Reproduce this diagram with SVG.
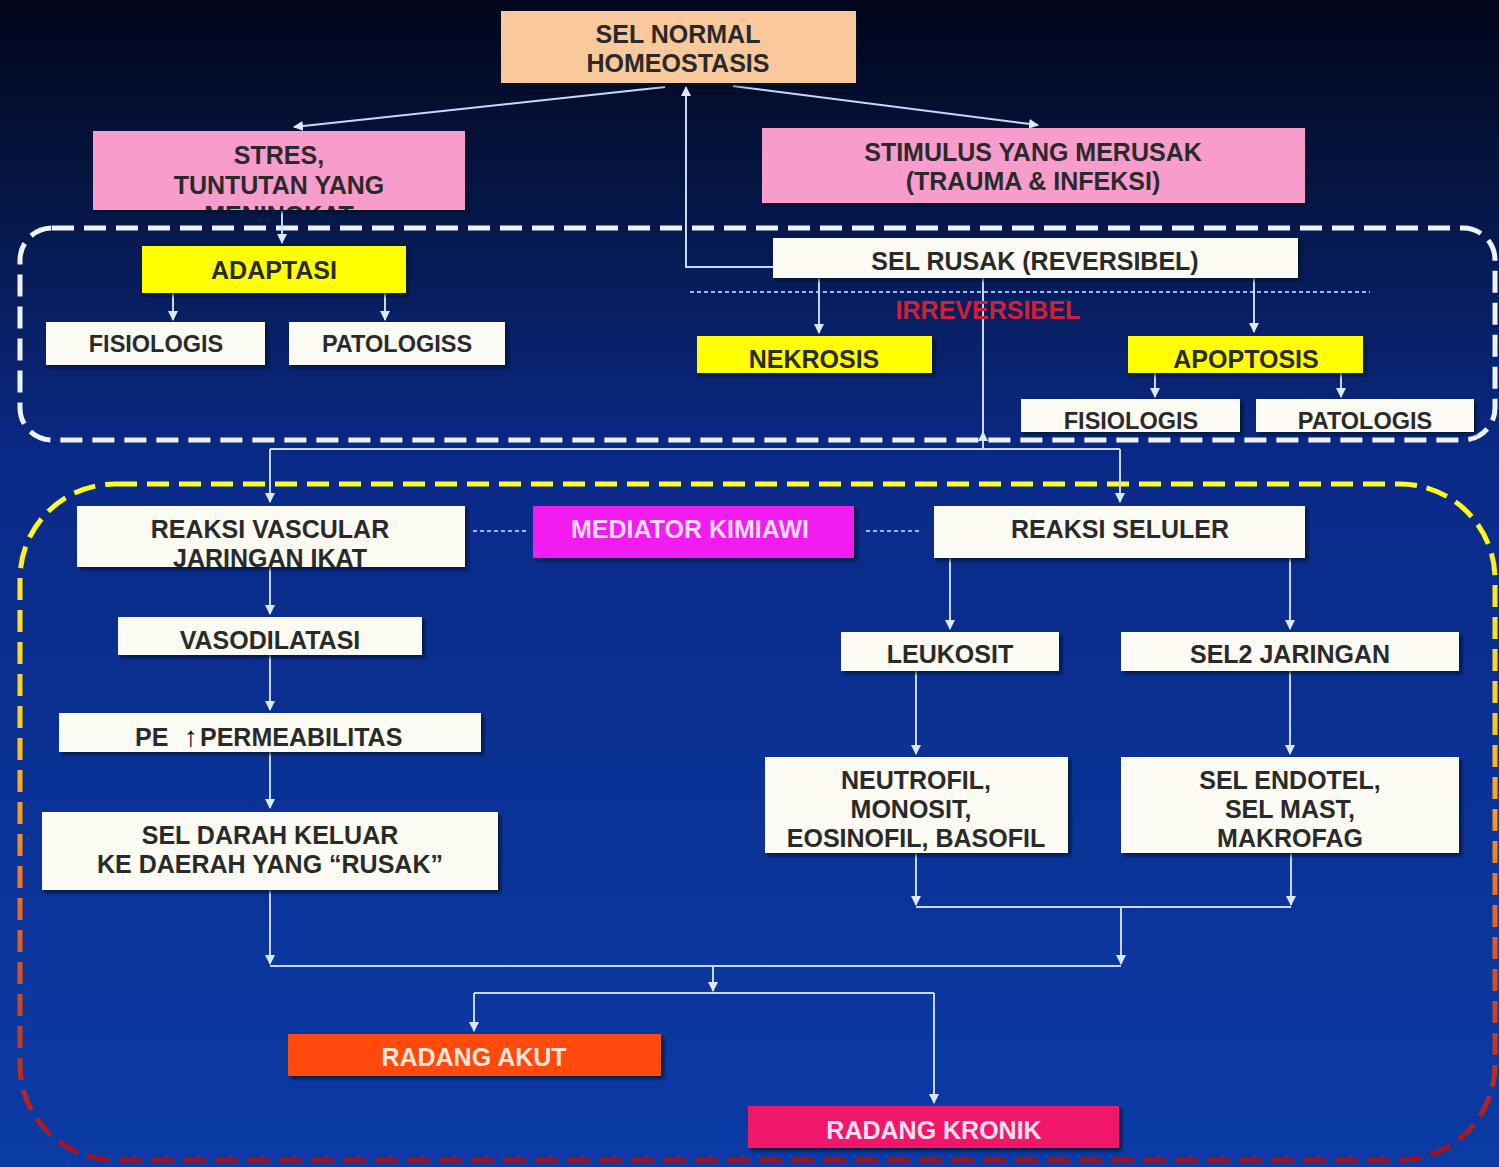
<svg xmlns="http://www.w3.org/2000/svg" width="1499" height="1167" viewBox="0 0 1499 1167">
<defs>
  <linearGradient id="bg" x1="0" y1="0" x2="0" y2="1">
    <stop offset="0" stop-color="#02051a"/>
    <stop offset="0.15" stop-color="#051540"/>
    <stop offset="0.4" stop-color="#0a2a88"/>
    <stop offset="1" stop-color="#0b3ba6"/>
  </linearGradient>
  <linearGradient id="dashg" x1="0" y1="0" x2="0" y2="1" gradientUnits="objectBoundingBox">
    <stop offset="0" stop-color="#ffff20"/>
    <stop offset="0.35" stop-color="#ffcc20"/>
    <stop offset="0.6" stop-color="#f07020"/>
    <stop offset="1" stop-color="#a01020"/>
  </linearGradient>
  <marker id="ah" viewBox="0 0 10 10" refX="9" refY="5" markerWidth="10" markerHeight="10" markerUnits="userSpaceOnUse" orient="auto">
    <path d="M0,0 L10,5 L0,10 z" fill="#dde8ff"/>
  </marker>
  <filter id="sh" x="-5%" y="-10%" width="112%" height="130%">
    <feDropShadow dx="3" dy="3" stdDeviation="1.5" flood-color="#000820" flood-opacity="0.7"/>
  </filter>
  <clipPath id="stresclip"><rect x="93" y="131" width="372" height="79"/></clipPath>
</defs>
<style>
  .t { font-family: "Liberation Sans", Arial, sans-serif; font-weight: bold; font-size: 25px; fill: #2a2a2a; text-anchor: middle; }
  .s { font-size: 23.5px; }
  .w { fill: #fbfbf4; filter: url(#sh); }
  .y { fill: #ffff00; filter: url(#sh); }
  .p { fill: #f79ccb; filter: url(#sh); }
  .c { stroke: #c6d8ff; stroke-width: 2; fill: none; }
  .a { marker-end: url(#ah); }
  .dot { stroke: #9cb8ff; stroke-width: 2; stroke-dasharray: 4 3; fill: none; }
</style>
<rect x="0" y="0" width="1499" height="1167" fill="url(#bg)"/>

<!-- dashed regions -->
<rect x="20" y="228" width="1475" height="212" rx="32" fill="none" stroke="#eef2ff" stroke-width="5" stroke-dasharray="22 10"/>
<rect x="20" y="484" width="1475" height="676" rx="95" fill="none" stroke="url(#dashg)" stroke-width="5" stroke-dasharray="22 10"/>

<g id="connectors">
  <line class="c a" x1="665" y1="87" x2="294" y2="127"/>
  <line class="c a" x1="733" y1="86" x2="1038" y2="125"/>
  <polyline class="c a" points="773,267 686,267 686,87"/>
  <line class="c a" x1="282" y1="211" x2="282" y2="243"/>
  <line class="c a" x1="173" y1="293" x2="173" y2="320"/>
  <line class="c a" x1="385" y1="293" x2="385" y2="320"/>
  <line class="dot" x1="690" y1="292" x2="1370" y2="292"/>
  <line class="c a" x1="819" y1="278" x2="819" y2="333"/>
  <line class="c a" x1="1254" y1="278" x2="1254" y2="332"/>
  <line class="c a" x1="1155" y1="373" x2="1155" y2="397"/>
  <line class="c a" x1="1341" y1="373" x2="1341" y2="397"/>
  <line class="c" x1="983" y1="278" x2="983" y2="449"/>
  <path d="M983,431 L988,441 L978,441 z" fill="#dde8ff"/>
  <line class="c" x1="270" y1="449" x2="1120" y2="449"/>
  <line class="c a" x1="270" y1="449" x2="270" y2="502"/>
  <line class="c a" x1="1120" y1="449" x2="1120" y2="502"/>
  <line class="dot" x1="473" y1="531" x2="528" y2="531"/>
  <line class="dot" x1="866" y1="531" x2="920" y2="531"/>
  <line class="c a" x1="270" y1="567" x2="270" y2="614"/>
  <line class="c a" x1="270" y1="655" x2="270" y2="710"/>
  <line class="c a" x1="270" y1="752" x2="270" y2="808"/>
  <line class="c a" x1="950" y1="558" x2="950" y2="629"/>
  <line class="c a" x1="1290" y1="558" x2="1290" y2="629"/>
  <line class="c a" x1="916" y1="671" x2="916" y2="754"/>
  <line class="c a" x1="1290" y1="671" x2="1290" y2="754"/>
  <line class="c a" x1="916" y1="853" x2="916" y2="905"/>
  <line class="c a" x1="1291" y1="853" x2="1291" y2="905"/>
  <line class="c" x1="916" y1="907" x2="1291" y2="907"/>
  <line class="c a" x1="1121" y1="907" x2="1121" y2="964"/>
  <line class="c a" x1="270" y1="890" x2="270" y2="964"/>
  <line class="c" x1="270" y1="966" x2="1121" y2="966"/>
  <line class="c a" x1="713" y1="966" x2="713" y2="991"/>
  <line class="c" x1="474" y1="993" x2="934" y2="993"/>
  <line class="c a" x1="474" y1="993" x2="474" y2="1031"/>
  <line class="c a" x1="934" y1="993" x2="934" y2="1103"/>
</g>

<g id="sel-normal">
  <rect x="501" y="11" width="355" height="72" fill="#f9c89b" filter="url(#sh)"/>
  <text class="t" x="678" y="43">SEL NORMAL</text>
  <text class="t" x="678" y="72">HOMEOSTASIS</text>
</g>
<g id="stres">
  <rect class="p" x="93" y="131" width="372" height="79"/>
  <text class="t" x="279" y="164">STRES,</text>
  <text class="t" x="279" y="194">TUNTUTAN YANG</text>
  <text class="t" x="279" y="224" clip-path="url(#stresclip)">MENINGKAT</text>
</g>
<g id="stimulus">
  <rect class="p" x="762" y="128" width="543" height="75"/>
  <text class="t" x="1033" y="161">STIMULUS YANG MERUSAK</text>
  <text class="t" x="1033" y="190">(TRAUMA &amp; INFEKSI)</text>
</g>
<g id="adaptasi">
  <rect class="y" x="142" y="246" width="264" height="47"/>
  <text class="t" x="274" y="279">ADAPTASI</text>
</g>
<g id="fisiologis-1">
  <rect class="w" x="46" y="322" width="219" height="43"/>
  <text class="t s" x="156" y="352">FISIOLOGIS</text>
</g>
<g id="patologiss">
  <rect class="w" x="289" y="322" width="216" height="43"/>
  <text class="t s" x="397" y="352">PATOLOGISS</text>
</g>
<g id="sel-rusak">
  <rect class="w" x="773" y="238" width="525" height="40"/>
  <text class="t" x="1035" y="270">SEL RUSAK (REVERSIBEL)</text>
</g>
<g id="irreversibel">
  <text class="t" x="988" y="319" style="fill:#d41e34">IRREVERSIBEL</text>
</g>
<g id="nekrosis">
  <rect class="y" x="697" y="336" width="235" height="37"/>
  <text class="t" x="814" y="368">NEKROSIS</text>
</g>
<g id="apoptosis">
  <rect class="y" x="1128" y="336" width="235" height="37"/>
  <text class="t" x="1246" y="368">APOPTOSIS</text>
</g>
<g id="fisiologis-2">
  <rect class="w" x="1021" y="399" width="219" height="33"/>
  <text class="t s" x="1131" y="429">FISIOLOGIS</text>
</g>
<g id="patologis">
  <rect class="w" x="1256" y="399" width="218" height="33"/>
  <text class="t s" x="1365" y="429">PATOLOGIS</text>
</g>
<g id="reaksi-vascular">
  <rect class="w" x="77" y="506" width="388" height="61"/>
  <text class="t" x="270" y="538">REAKSI VASCULAR</text>
  <text class="t" x="270" y="567">JARINGAN IKAT</text>
</g>
<g id="mediator">
  <rect x="533" y="506" width="321" height="52" fill="#f21ef0" filter="url(#sh)"/>
  <text class="t" x="690" y="538" style="fill:#ffd8ff">MEDIATOR KIMIAWI</text>
</g>
<g id="reaksi-seluler">
  <rect class="w" x="934" y="506" width="371" height="52"/>
  <text class="t" x="1120" y="538">REAKSI SELULER</text>
</g>
<g id="vasodilatasi">
  <rect class="w" x="118" y="617" width="304" height="38"/>
  <text class="t" x="270" y="649">VASODILATASI</text>
</g>
<g id="permeabilitas">
  <rect class="w" x="59" y="713" width="422" height="39"/>
  <text class="t" y="746" style="text-anchor:start"><tspan x="135">PE</tspan><tspan x="184" style="fill:#000;font-size:28px">↑</tspan><tspan x="200">PERMEABILITAS</tspan></text>
</g>
<g id="sel-darah">
  <rect class="w" x="42" y="812" width="456" height="78"/>
  <text class="t" x="270" y="844">SEL DARAH KELUAR</text>
  <text class="t" x="270" y="873">KE DAERAH YANG  “RUSAK”</text>
</g>
<g id="leukosit">
  <rect class="w" x="841" y="632" width="218" height="39"/>
  <text class="t" x="950" y="663">LEUKOSIT</text>
</g>
<g id="sel2-jaringan">
  <rect class="w" x="1121" y="632" width="338" height="39"/>
  <text class="t" x="1290" y="663">SEL2 JARINGAN</text>
</g>
<g id="neutrofil">
  <rect class="w" x="765" y="757" width="303" height="96"/>
  <text class="t" x="916" y="789">NEUTROFIL,</text>
  <text class="t" x="911" y="818">MONOSIT,</text>
  <text class="t" x="916" y="847">EOSINOFIL, BASOFIL</text>
</g>
<g id="sel-endotel">
  <rect class="w" x="1121" y="757" width="338" height="96"/>
  <text class="t" x="1290" y="789">SEL ENDOTEL,</text>
  <text class="t" x="1290" y="818">SEL MAST,</text>
  <text class="t" x="1290" y="847">MAKROFAG</text>
</g>
<g id="radang-akut">
  <rect x="288" y="1034" width="373" height="42" fill="#ff4a0a" filter="url(#sh)"/>
  <text class="t" x="474" y="1066" style="fill:#ffe6d6">RADANG AKUT</text>
</g>
<g id="radang-kronik">
  <rect x="748" y="1106" width="371" height="42" fill="#f0146a" filter="url(#sh)"/>
  <text class="t" x="934" y="1139" style="fill:#ffe0ee">RADANG KRONIK</text>
</g>
</svg>
